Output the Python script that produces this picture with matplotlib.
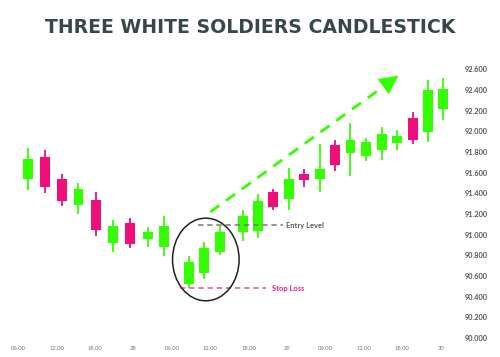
import matplotlib
matplotlib.use("Agg")
import matplotlib.pyplot as plt
from matplotlib.patches import Ellipse

# ---- data ----
hours = [1.5, 4.1, 6.8, 9.4, 12.1, 14.8, 17.5, 20.2, 22.8,
         26.6, 29.0, 31.5,
         35.1, 37.5, 39.8, 42.3, 44.7, 47.2, 49.5, 51.9, 54.3, 56.8, 59.2, 61.6, 64.0, 66.4]
opens = [91.54, 91.75, 91.54, 91.29, 91.34, 90.92, 91.11, 90.96, 90.88,
         90.52, 90.63, 90.83,
         91.03, 91.04, 91.41, 91.35, 91.59, 91.54, 91.87, 91.79, 91.76, 91.82, 91.89, 92.13, 91.99, 92.22]
closes = [91.73, 91.46, 91.33, 91.44, 91.05, 91.08, 90.91, 91.03, 91.08,
          90.74, 90.87, 91.03,
          91.18, 91.33, 91.27, 91.54, 91.53, 91.64, 91.67, 91.92, 91.90, 91.97, 91.96, 91.92, 92.40, 92.41]
highs = [91.84, 91.82, 91.59, 91.50, 91.41, 91.14, 91.16, 91.07, 91.18,
         90.79, 90.93, 91.08,
         91.24, 91.39, 91.44, 91.65, 91.64, 91.88, 91.92, 92.08, 91.94, 92.04, 92.01, 92.19, 92.50, 92.52]
lows = [91.43, 91.40, 91.28, 91.20, 90.99, 90.83, 90.87, 90.88, 90.79,
        90.48, 90.57, 90.80,
        90.94, 90.97, 91.24, 91.24, 91.46, 91.41, 91.62, 91.57, 91.71, 91.72, 91.82, 91.88, 91.90, 92.11]

x_ticks = [0, 6, 12, 18, 24, 30, 36, 42, 48, 54, 60, 66]
x_labels = ['06.00', '12.00', '18.00', '28', '06.00', '12.00', '18.00', '29',
            '06.00', '12.00', '18.00', '30']
y_ticks = [90.0, 90.2, 90.4, 90.6, 90.8, 91.0, 91.2, 91.4, 91.6, 91.8, 92.0, 92.2, 92.4, 92.6]

entry_level = 91.09
stop_loss = 90.48
entry_x = [28.0, 41.4]
stop_x = [25.3, 38.7]
arrow_start = (30.0, 91.22)
arrow_tip = (59.4, 92.54)
circle_center = (29.3, 90.76)
circle_size = (10.4, 0.80)

GREEN = '#33ff00'
PINK = '#ee0f7b'

W, H = 500, 357
fig = plt.figure(figsize=(W / 100, H / 100), dpi=100)
left_px, right_px, top_px, bottom_px = 0, 455, 60, 342
ax = fig.add_axes([left_px / W, 1 - bottom_px / H, (right_px - left_px) / W, (bottom_px - top_px) / H])

px_per_hour = 6.4
px_per_unit = 103.3
ax.set_xlim((left_px - 18.3) / px_per_hour, (right_px - 18.3) / px_per_hour)
ax.set_ylim(90 - (bottom_px - 338) / px_per_unit, 90 + (338 - top_px) / px_per_unit)

width = 1.55
for h, o, c, hi, lo in zip(hours, opens, closes, highs, lows):
    col = GREEN if c >= o else PINK
    ax.vlines(h, lo, hi, color=col, linewidth=1.3, zorder=2)
    ax.bar(h, abs(c - o), bottom=min(o, c), width=width, color=col, edgecolor='none', zorder=3)

# entry / stop lines
ax.plot(entry_x, [entry_level, entry_level], color='#777777', linestyle=(0, (3.5, 2.5)), linewidth=1.1, zorder=4)
ax.text(entry_x[1] + 0.5, entry_level, 'Entry Level', color='#555555', fontsize=5.4, fontweight='bold',
        va='center', ha='left', family='Lato')
ax.plot(stop_x, [stop_loss, stop_loss], color='#f0489a', linestyle=(0, (3.5, 2.5)), linewidth=1.1, zorder=4)
ax.text(stop_x[1] + 1.0, stop_loss, 'Stop Loss', color='#f0207f', fontsize=5.4, fontweight='bold',
        va='center', ha='left', family='Lato')

# circle
ax.add_patch(Ellipse(circle_center, circle_size[0], circle_size[1], fill=False,
                     edgecolor='#222222', linewidth=1.1, zorder=5))

# dashed arrow
dx = arrow_tip[0] - arrow_start[0]
dy = arrow_tip[1] - arrow_start[1]
frac = 0.93
ax.plot([arrow_start[0], arrow_start[0] + dx * frac], [arrow_start[1], arrow_start[1] + dy * frac],
        color=GREEN, linestyle=(0, (4, 3)), linewidth=2.0, zorder=4)
ax.annotate('', xy=arrow_tip, xytext=(arrow_start[0] + dx * 0.9, arrow_start[1] + dy * 0.9),
            arrowprops=dict(arrowstyle='-|>,head_length=0.9,head_width=0.45', color=GREEN,
                            linewidth=0, shrinkA=0, shrinkB=0, mutation_scale=15), zorder=4)

for s in ax.spines.values():
    s.set_visible(False)
ax.set_xticks(x_ticks)
ax.set_xticklabels(x_labels, fontsize=4.2, color='#777777', family='Lato')
ax.yaxis.tick_right()
ax.set_yticks(y_ticks)
ax.set_yticklabels(['%.3f' % v for v in y_ticks], fontsize=5.3, color='#555555', family='Lato',
                   fontweight='bold')
ax.tick_params(axis='both', length=0)
ax.tick_params(axis='y', pad=7)
ax.tick_params(axis='x', pad=3)

fig.text(0.5, 1 - 27.5 / H, 'THREE WHITE SOLDIERS CANDLESTICK', ha='center', va='center',
         fontsize=13.6, fontweight='bold', color='#37474a', family='DejaVu Sans')

fig.savefig('out.png', dpi=100)
